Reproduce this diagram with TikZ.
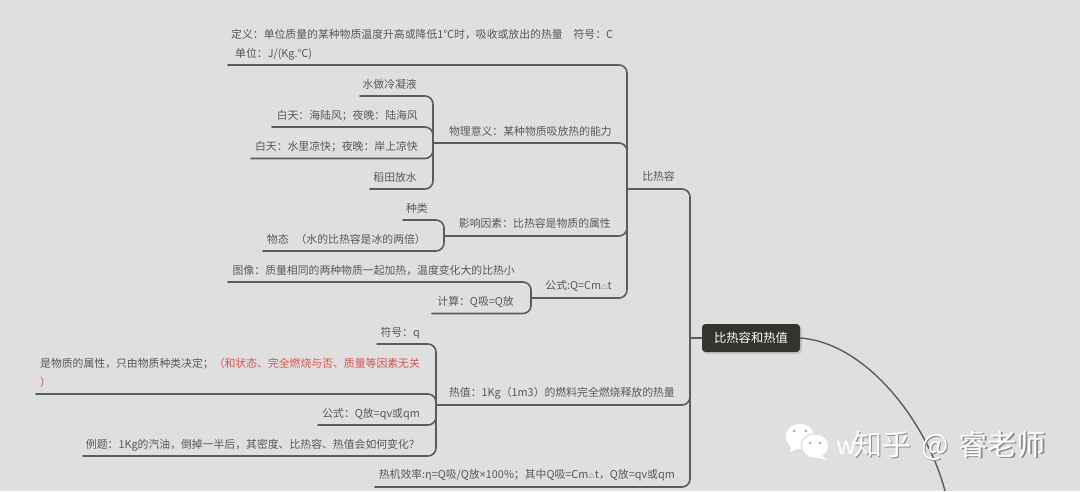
\documentclass[tikz,border=0pt]{standalone}
\usepackage{fontspec}
\setmainfont{Noto Sans CJK SC}
\newfontfamily\latinf{Noto Sans}
\usetikzlibrary{calc}
\definecolor{bgc}{HTML}{DFDFDF}
\definecolor{txtc}{HTML}{585858}
\definecolor{linec}{HTML}{5C5C5C}
\definecolor{rootc}{HTML}{33332F}
\definecolor{redc}{HTML}{D9534A}
\tikzset{
  txt/.style={inner sep=0pt,text=txtc,font=\fontsize{10.85}{19}\selectfont},
  conn/.style={draw=linec,line width=1.6pt,rounded corners=8pt,line cap=round},
  rootbox/.style={fill=rootc,rounded corners=3.5pt,minimum width=98pt,minimum height=28pt,inner sep=0pt,text=white,font=\fontsize{12.3}{14}\selectfont},
  wmark/.style={inner sep=0pt,text=white,font=\fontsize{29}{32}\selectfont},
}
\newcommand\tp[6]{%
  \coordinate (#1-l) at (#2,#3);
  \node[txt,anchor=base east] (#1) at (#4,#5+4) {#6};}
\newcommand\smalltri{{\fontsize{6.5}{6}\selectfont △}}
\newcommand\wmtext{知乎\hspace{10pt}@\hspace{10pt}睿老师}
\begin{document}
\begin{tikzpicture}[x=1pt,y=-1pt]
\useasboundingbox (0,0) rectangle (1080,491);
\fill[bgc] (0,0) rectangle (1080,491);

% junction points
\coordinate (rj-root) at (690,338);
\tp{bi}{627}{189}{675}{176}{比热容}
\tp{ph}{433}{143}{612}{131}{物理意义：某种物质吸放热的能力}
\tp{yx}{444}{236}{611}{223}{影响因素：比热容是物质的属性}
\tp{gs}{531}{298}{612}{285}{公式:Q=Cm\smalltri t}
\tp{wu}{360}{96}{417}{84}{水做冷凝液}
\tp{bta}{272}{127}{418}{115}{白天：海陆风；夜晚：陆海风}
\tp{btb}{251}{158.5}{418}{146}{白天：水里凉快；夜晚：岸上凉快}
\tp{dt}{370}{189}{417}{177}{稻田放水}
\tp{zl}{403}{220}{428}{208}{种类}
\tp{wt}{263}{251}{426}{239}{物态\hspace{7pt}（水的比热容是冰的两倍）}
\tp{tx}{228}{282}{515}{270}{图像：质量相同的两种物质一起加热，温度变化大的比热小}
\tp{js}{432}{313.5}{514}{301}{计算：Q吸=Q放}
\tp{rz}{436}{405}{675}{392}{热值：1Kg（1m3）的燃料完全燃烧释放的热量}
\tp{rx}{375}{487}{675}{474}{热机效率:η=Q吸/Q放{\latinf ×}100\%；其中Q吸=Cm\smalltri t，Q放=qv或qm}
\tp{fh}{377}{344}{420}{332}{符号：q}
\tp{gq}{318}{425}{420}{413}{公式：Q放=qv或qm}
\tp{lt}{83}{456}{420}{444}{例题：1Kg的汽油，倒掉一半后，其密度、比热容、热值会如何变化？}

\coordinate (def-l) at (228,65);
\node[txt,anchor=north west,align=left] (def) at (231,29.5)
  {定义：单位质量的某种物质温度升高或降低1℃时，吸收或放出的热量　符号：C\\\hspace{4pt}单位：J/(Kg.℃)};
\coordinate (sw-l) at (36,394);
\node[txt,anchor=north west,align=left] (sw) at (40,358)
  {是物质的属性，只由物质种类决定；\textcolor{redc}{（和状态、完全燃烧与否、质量等因素无关}\\\textcolor{redc}{）}};

\fill[black!22,rounded corners=3.5pt] (703,326) rectangle (802,354);
\node[rootbox] (root) at (751,338) {比热容和热值};
\coordinate (rootout) at (945,491);

% connectors
\draw[conn] (bi-l) -| (rj-root);
\draw[conn] (rz-l) -| (rj-root);
\draw[conn] (rx-l) -| (rj-root);
\draw[conn] (rj-root) -- (root.west);
\draw[conn] (def-l) -| (bi-l);
\draw[conn] (ph-l) -| (bi-l);
\draw[conn] (yx-l) -| (bi-l);
\draw[conn] (gs-l) -| (bi-l);
\draw[conn] (wu-l) -| (ph-l);
\draw[conn] (bta-l) -| (ph-l);
\draw[conn] (btb-l) -| (ph-l);
\draw[conn] (dt-l) -| (ph-l);
\draw[conn] (zl-l) -| (yx-l);
\draw[conn] (wt-l) -| (yx-l);
\draw[conn] (tx-l) -| (gs-l);
\draw[conn] (js-l) -| (gs-l);
\draw[conn] (fh-l) -| (rz-l);
\draw[conn] (sw-l) -| (rz-l);
\draw[conn] (gq-l) -| (rz-l);
\draw[conn] (lt-l) -| (rz-l);
\draw[linec,line width=1.4pt] (root.east) .. controls (868,343) and (928,425) .. (rootout);

% watermark
\fill[white] (800,436.5) ellipse (14.5 and 12.5);
\fill[white] (791,446) -- (790,452) -- (799,448) -- cycle;
\fill[bgc] (815,446) ellipse (14.5 and 13);
\fill[white] (815,446) ellipse (13 and 11.5);
\fill[white] (820,454) -- (827,460) -- (814,457) -- cycle;
\fill[txtc!70] (794,431) circle (1.2) (806,431) circle (1.2) (810,443) circle (1.2) (820,443) circle (1.2);
\node[wmark,text=black!45,anchor=base west] at (854.5,456.5) {\wmtext};
\node[wmark,anchor=base west,font=\fontsize{25}{30}\selectfont] (wm) at (836,454) {w};
\node[wmark,anchor=base west] (wmb) at (853,455) {\wmtext};
\end{tikzpicture}
\end{document}
